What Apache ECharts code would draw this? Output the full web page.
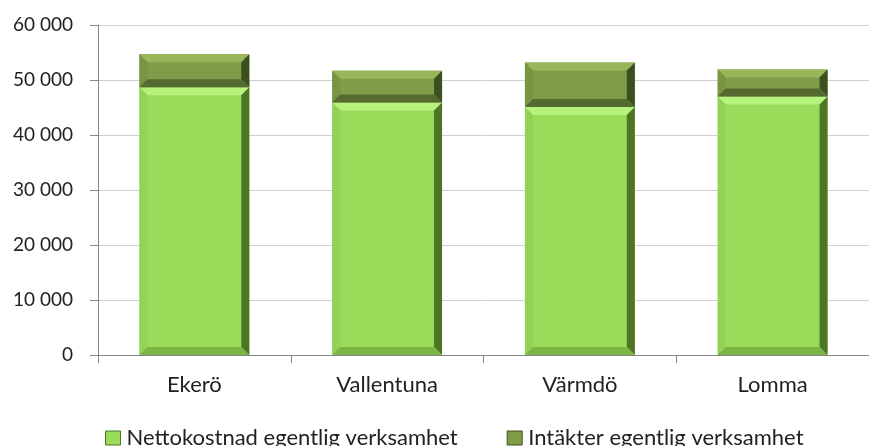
<!DOCTYPE html>
<html>
<head>
<meta charset="utf-8">
<script src="https://cdn.jsdelivr.net/npm/echarts@6/dist/echarts.min.js"></script>
<style>
  html, body { margin: 0; padding: 0; background: #fff; }
  #chart { width: 869px; height: 446px; }
</style>
</head>
<body>
<div id="chart"></div>
<script>
  // data
  const categories = ['Ekerö', 'Vallentuna', 'Värmdö', 'Lomma'];
  const netto = [48700, 45900, 45100, 47000];
  const intakter = [6000, 5800, 8100, 4900];
  const yTicks = [0, 10000, 20000, 30000, 40000, 50000, 60000];
  const seriesNames = ['Nettokostnad egentlig verksamhet', 'Intäkter egentlig verksamhet'];

  const FONT = 'Lato, "Open Sans", sans-serif';

  // bevel colours per series: body, top, left, right, bottom
  const bevel = [
    { body: '#9bdb5a', top: '#b6f37c', left: '#93d256', right: '#4d7526', bottom: '#7cb545' },
    { body: '#819c48', top: '#9ab65b', left: '#7a9443', right: '#3c4f1f', bottom: '#546a2f' }
  ];

  function makeRender(si) {
    const c = bevel[si];
    return function (params, api) {
      const i = api.value(0);
      const p0 = api.coord([i, api.value(1)]);
      const p1 = api.coord([i, api.value(2)]);
      const w = api.size([1, 0])[0] * 0.57;
      const l = p0[0] - w / 2, r = p0[0] + w / 2;
      const t = p1[1], bt = p0[1];
      const b = Math.min(8, (bt - t) / 2);
      return {
        type: 'group',
        children: [
          { type: 'rect', shape: { x: l, y: t, width: r - l, height: bt - t }, style: { fill: c.body } },
          { type: 'polygon', shape: { points: [[l, t], [r, t], [r - b, t + b], [l + b, t + b]] }, style: { fill: c.top } },
          { type: 'polygon', shape: { points: [[l, t], [l + b, t + b], [l + b, bt - b], [l, bt]] }, style: { fill: c.left } },
          { type: 'polygon', shape: { points: [[r, t], [r, bt], [r - b, bt - b], [r - b, t + b]] }, style: { fill: c.right } },
          { type: 'polygon', shape: { points: [[l, bt], [r, bt], [r - b, bt - b], [l + b, bt - b]] }, style: { fill: c.bottom } }
        ]
      };
    };
  }

  const nettoData = categories.map((c, i) => [i, 0, netto[i]]);
  const intakterData = categories.map((c, i) => [i, netto[i], netto[i] + intakter[i]]);

  const chart = echarts.init(document.getElementById('chart'));
  chart.setOption({
    animation: false,
    textStyle: { fontFamily: FONT },
    grid: { left: 98, top: 25, width: 781, height: 330 },
    legend: {
      left: 100,
      top: 422,
      itemWidth: 15,
      itemHeight: 14,
      itemGap: 49,
      icon: 'rect',
      data: [
        { name: seriesNames[0], itemStyle: { color: bevel[0].body, borderColor: bevel[0].right, borderWidth: 1 } },
        { name: seriesNames[1], itemStyle: { color: bevel[1].body, borderColor: bevel[1].right, borderWidth: 1 } }
      ],
      textStyle: { fontSize: 22, color: '#222', fontFamily: FONT, padding: [0, 0, 0, 1] }
    },
    xAxis: {
      type: 'category',
      data: categories,
      axisLine: { lineStyle: { color: '#868686', width: 1 } },
      axisTick: { show: true, length: 8, lineStyle: { color: '#868686' } },
      axisLabel: { fontSize: 22, color: '#222', margin: 19, fontFamily: FONT }
    },
    yAxis: {
      type: 'value',
      min: yTicks[0],
      max: yTicks[yTicks.length - 1],
      interval: yTicks[1] - yTicks[0],
      axisLine: { show: true, lineStyle: { color: '#868686' } },
      axisTick: { show: true, length: 8, inside: false, lineStyle: { color: '#868686' } },
      splitLine: { lineStyle: { color: '#d0d0d0' } },
      axisLabel: {
        fontSize: 19, color: '#222', margin: 25, fontFamily: FONT,
        formatter: v => String(v).replace(/\B(?=(\d{3})+(?!\d))/g, ' ')
      }
    },
    series: [
      { name: seriesNames[0], type: 'custom', renderItem: makeRender(0), data: nettoData, encode: { x: 0, y: [1, 2] } },
      { name: seriesNames[1], type: 'custom', renderItem: makeRender(1), data: intakterData, encode: { x: 0, y: [1, 2] } }
    ]
  });
</script>
</body>
</html>
